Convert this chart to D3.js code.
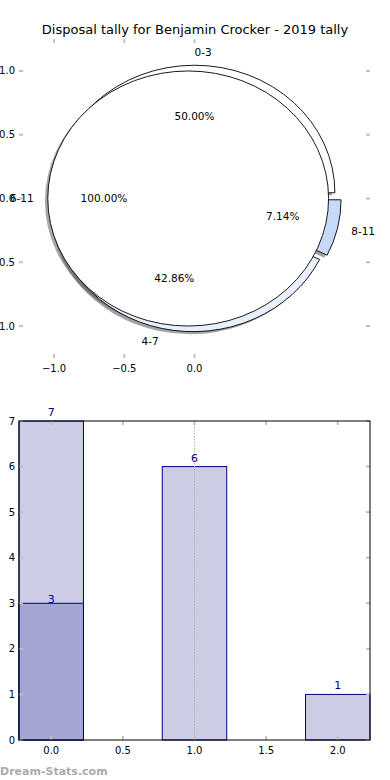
<!DOCTYPE html>
<html>
<head>
<meta charset="utf-8">
<script src="https://cdn.jsdelivr.net/npm/d3@7/dist/d3.min.js"></script>
<style>
  body { margin: 0; background: #fff; }
  svg { display: block; font-family: "DejaVu Sans", sans-serif; }
</style>
</head>
<body>
<div id="chart"></div>
<script>
// pie data (outer ring = disposal bands, inner = single band)
var outerLabels = ["0-3", "4-7", "8-11"];
var outerValues = [7, 6, 1];
var innerLabels = ["6-11"];
var innerValues = [1];
var pieXTicks = [-1.0, -0.5, 0.0];
var pieYTicks = [-1.0, -0.5, 0.0, 0.5, 1.0];

// bar data
var barPositions = [0, 1, 2];
var barTotals = [7, 6, 1];
var barSubset = [3, 0, 0];
var barXTicks = [0.0, 0.5, 1.0, 1.5, 2.0];
var barYTicks = [0, 1, 2, 3, 4, 5, 6, 7];
var refLineX = 1.0;

var title = "Disposal tally for Benjamin Crocker - 2019 tally";

var width = 390, height = 780;
var outerColors = ["#ffffff", "#e9f0fd", "#c6d9f9"];
var innerColors = ["#ffffff"];
var tickColor = "#c0c0c0";
var navy = "#000080";

var svg = d3.select("#chart").append("svg")
  .attr("width", width)
  .attr("height", height);

svg.append("text")
  .attr("x", 195).attr("y", 34)
  .attr("text-anchor", "middle")
  .attr("font-size", 13)
  .text(title);

// ---------- pie panel ----------
var px = d3.scaleLinear().domain([-1.25, 1.25]).range([19, 370]);
var py = d3.scaleLinear().domain([-1.25, 1.25]).range([357.9, 39.1]);

var explode = 0.045;
var pie = d3.pie().sort(null).startAngle(Math.PI / 2).endAngle(Math.PI / 2 - 2 * Math.PI);
var arc = d3.arc().innerRadius(0).outerRadius(1);

function layout(values, labels, colors) {
  return pie(values).map(function(d, i) {
    var mid = (d.startAngle + d.endAngle) / 2;
    var theta = Math.PI / 2 - mid;           // math angle, ccw from 3 o'clock
    var cx = explode * Math.cos(theta), cy = explode * Math.sin(theta);
    return {arc: d, theta: theta, cx: cx, cy: cy, label: labels[i], color: colors[i],
            pct: d.value / d3.sum(values) * 100};
  });
}
var outer = layout(outerValues, outerLabels, outerColors);
var inner = layout(innerValues, innerLabels, innerColors);
var all = outer.concat(inner);

var sx = px(1) - px(0), sy = py(0) - py(1);
function wedgeTransform(d, ox, oy) {
  return "translate(" + px(d.cx + ox) + "," + py(d.cy + oy) + ") scale(" + sx + "," + sy + ")";
}

var pieG = svg.append("g");

// shadows first (lower z-order)
pieG.selectAll(".shadow").data(all).enter().append("path")
  .attr("class", "shadow")
  .attr("transform", function(d) { return wedgeTransform(d, -0.02, -0.02); })
  .attr("d", function(d) { return arc(d.arc); })
  .attr("fill", function(d) { var c = d3.rgb(d.color); return d3.rgb(c.r * 0.3, c.g * 0.3, c.b * 0.3); })
  .attr("stroke", "none")
  .attr("opacity", 0.5);

pieG.selectAll(".wedge").data(all).enter().append("path")
  .attr("class", "wedge")
  .attr("transform", function(d) { return wedgeTransform(d, 0, 0); })
  .attr("d", function(d) { return arc(d.arc); })
  .attr("fill", function(d) { return d.color; })
  .attr("stroke", "#000")
  .attr("stroke-width", 0.9)
  .attr("vector-effect", "non-scaling-stroke");

// labels
pieG.selectAll(".plabel").data(all).enter().append("text")
  .attr("x", function(d) { return px(d.cx + 1.1 * Math.cos(d.theta)); })
  .attr("y", function(d) { return py(d.cy + 1.1 * Math.sin(d.theta)); })
  .attr("dy", "0.35em")
  .attr("text-anchor", function(d) { return (d.cx + 1.1 * Math.cos(d.theta)) > 0 ? "start" : "end"; })
  .attr("font-size", 10.5)
  .text(function(d) { return d.label; });

pieG.selectAll(".pct").data(all).enter().append("text")
  .attr("x", function(d) { return px(d.cx + 0.6 * Math.cos(d.theta)); })
  .attr("y", function(d) { return py(d.cy + 0.6 * Math.sin(d.theta)); })
  .attr("dy", "0.35em")
  .attr("text-anchor", "middle")
  .attr("font-size", 10.5)
  .text(function(d) { return d.pct.toFixed(2) + "%"; });

// pie axis ticks (inward, no frame)
function fmt(v) { return d3.format(".1f")(v).replace("-", "\u2212"); }
var pt = svg.append("g").attr("stroke", tickColor).attr("stroke-width", 2);
pieXTicks.forEach(function(t) {
  pt.append("line").attr("x1", px(t)).attr("x2", px(t)).attr("y1", py.range()[1]).attr("y2", py.range()[1] + 4);
  pt.append("line").attr("x1", px(t)).attr("x2", px(t)).attr("y1", py.range()[0]).attr("y2", py.range()[0] - 4);
});
pieYTicks.forEach(function(t) {
  pt.append("line").attr("y1", py(t)).attr("y2", py(t)).attr("x1", px.range()[0]).attr("x2", px.range()[0] + 4);
  pt.append("line").attr("y1", py(t)).attr("y2", py(t)).attr("x1", px.range()[1]).attr("x2", px.range()[1] - 4);
});
svg.append("g").selectAll("text").data(pieXTicks).enter().append("text")
  .attr("x", function(d) { return px(d); })
  .attr("y", py.range()[0] + 7)
  .attr("dy", "0.71em")
  .attr("text-anchor", "middle")
  .attr("font-size", 10)
  .text(fmt);
svg.append("g").selectAll("text").data(pieYTicks).enter().append("text")
  .attr("x", px.range()[0] - 4)
  .attr("y", function(d) { return py(d); })
  .attr("dy", "0.35em")
  .attr("text-anchor", "end")
  .attr("font-size", 10)
  .text(fmt);

// ---------- bar panel ----------
var barW = 0.45;
var bx = d3.scaleLinear().domain([-barW / 2, 2 + barW / 2]).range([19, 370]);
var by = d3.scaleLinear().domain([0, 7]).range([740, 421]);

var barG = svg.append("g");
barG.selectAll(".total").data(barPositions).enter().append("rect")
  .attr("x", function(d) { return bx(d - barW / 2); })
  .attr("width", function(d) { return Math.min(bx(d + barW / 2), bx.range()[1]) - bx(d - barW / 2); })
  .attr("y", function(d, i) { return by(barTotals[i]); })
  .attr("height", function(d, i) { return by(0) - by(barTotals[i]); })
  .attr("fill", "#cccce4")
  .attr("stroke", navy)
  .attr("stroke-width", 1);

barG.selectAll(".subset").data(barPositions.filter(function(d, i) { return barSubset[i] > 0; })).enter().append("rect")
  .attr("x", function(d) { return bx(d - barW / 2); })
  .attr("width", bx(barW) - bx(0))
  .attr("y", function(d) { return by(barSubset[d]); })
  .attr("height", function(d) { return by(0) - by(barSubset[d]); })
  .attr("fill", "#a3a5d3")
  .attr("stroke", navy)
  .attr("stroke-width", 1);

// reference line
barG.append("line")
  .attr("x1", bx(refLineX)).attr("x2", bx(refLineX))
  .attr("y1", by(7)).attr("y2", by(0))
  .attr("stroke", "#b0b0b0")
  .attr("stroke-width", 1)
  .attr("stroke-dasharray", "1.5,1.5");

// bar labels
barG.selectAll(".tl").data(barPositions).enter().append("text")
  .attr("x", function(d) { return bx(d); })
  .attr("y", function(d, i) { return by(barTotals[i]) - 5; })
  .attr("text-anchor", "middle")
  .attr("font-size", 11)
  .attr("fill", navy)
  .text(function(d, i) { return barTotals[i]; });
barG.selectAll(".sl").data(barPositions.filter(function(d, i) { return barSubset[i] > 0; })).enter().append("text")
  .attr("x", function(d) { return bx(d); })
  .attr("y", function(d) { return by(barSubset[d]); })
  .attr("text-anchor", "middle")
  .attr("font-size", 11)
  .attr("fill", navy)
  .text(function(d) { return barSubset[d]; });

// ticks
var bt = svg.append("g").attr("stroke", tickColor).attr("stroke-width", 2);
barXTicks.forEach(function(t) {
  bt.append("line").attr("x1", bx(t)).attr("x2", bx(t)).attr("y1", by(7)).attr("y2", by(7) + 4);
  bt.append("line").attr("x1", bx(t)).attr("x2", bx(t)).attr("y1", by(0)).attr("y2", by(0) - 4);
});
barYTicks.forEach(function(t) {
  bt.append("line").attr("y1", by(t)).attr("y2", by(t)).attr("x1", bx.range()[0]).attr("x2", bx.range()[0] + 4);
  bt.append("line").attr("y1", by(t)).attr("y2", by(t)).attr("x1", bx.range()[1]).attr("x2", bx.range()[1] - 4);
});

svg.append("rect")
  .attr("x", bx.range()[0]).attr("y", by(7))
  .attr("width", bx.range()[1] - bx.range()[0])
  .attr("height", by(0) - by(7))
  .attr("fill", "none")
  .attr("stroke", "#000")
  .attr("stroke-width", 1);

svg.append("g").selectAll("text").data(barXTicks).enter().append("text")
  .attr("x", function(d) { return bx(d); })
  .attr("y", by(0) + 7)
  .attr("dy", "0.71em")
  .attr("text-anchor", "middle")
  .attr("font-size", 10)
  .text(d3.format(".1f"));
svg.append("g").selectAll("text").data(barYTicks).enter().append("text")
  .attr("x", bx.range()[0] - 4)
  .attr("y", function(d) { return by(d); })
  .attr("dy", "0.35em")
  .attr("text-anchor", "end")
  .attr("font-size", 10)
  .text(function(d) { return d; });

svg.append("text")
  .attr("x", 0).attr("y", 775)
  .attr("font-size", 11)
  .attr("font-weight", "bold")
  .attr("fill", "#aaaaaa")
  .text("Dream-Stats.com");
</script>
</body>
</html>
